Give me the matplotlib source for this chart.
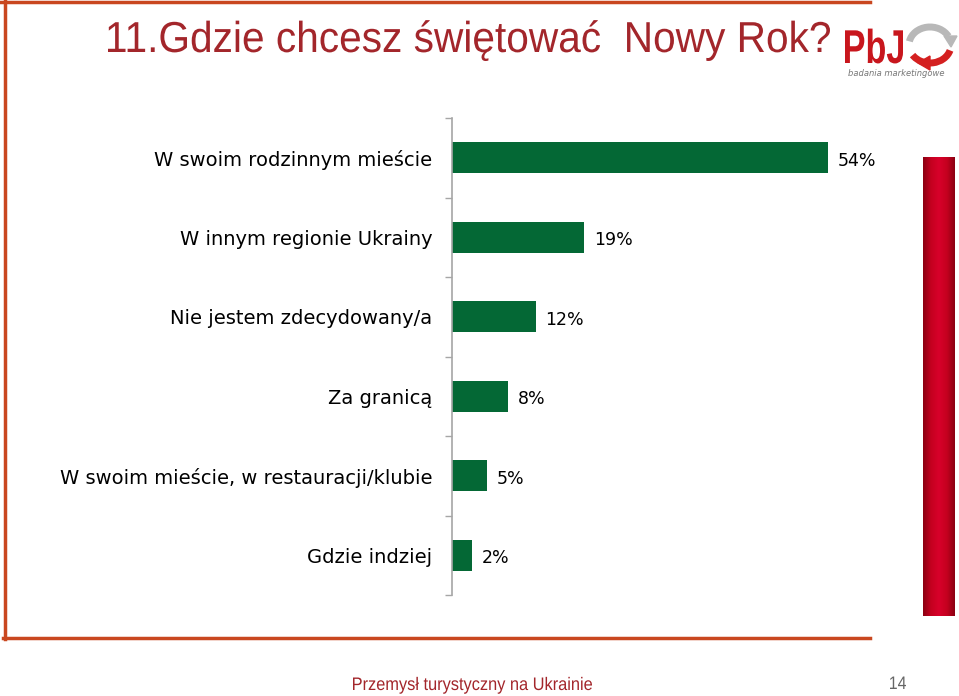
import numpy as np
import matplotlib.pyplot as plt
from matplotlib.lines import Line2D
from matplotlib.patches import Arc, PathPatch, Polygon
from matplotlib.textpath import TextPath
from matplotlib.font_manager import FontProperties
from matplotlib.transforms import Affine2D
from matplotlib.colors import LinearSegmentedColormap

categories = ['W swoim rodzinnym mieście',
              'W innym regionie Ukrainy',
              'Nie jestem zdecydowany/a',
              'Za granicą',
              'W swoim mieście, w restauracji/klubie',
              'Gdzie indziej']
values = [54, 19, 12, 8, 5, 2.9]
value_labels = ['54%', '19%', '12%', '8%', '5%', '2%']

title = '11.Gdzie chcesz świętować  Nowy Rok?'
footer = 'Przemysł turystyczny na Ukrainie'
page = '14'

green = '#046835'
dark_red = '#a3262b'
frame = '#c9471f'

fig = plt.figure(figsize=(9.59, 6.96), dpi=100)
W, H = 959, 696

# overlay in pixel coords (y down) for the slide decoration
ov = fig.add_axes([0, 0, 1, 1])
ov.set_xlim(0, W)
ov.set_ylim(H, 0)
ov.axis('off')
ov.patch.set_alpha(0)


def narrow_text(s, x0, base, cap, width, color, weight='normal'):
    # Arial Narrow look: Liberation Sans squeezed horizontally
    size = cap / 0.716
    tp = TextPath((0, 0), s, size=size,
                  prop=FontProperties(family='Liberation Sans', weight=weight))
    ext = tp.get_extents()
    sx = width / ext.width
    tr = Affine2D().translate(-ext.x0, 0).scale(sx, -1).translate(x0, base)
    ov.add_patch(PathPatch(tr.transform_path(tp), fc=color, ec='none'))


# frame lines
ov.add_line(Line2D([0, 870], [2, 2], color=frame, lw=2.5))
ov.add_line(Line2D([5, 5], [0, 639], color=frame, lw=2.5))
ov.add_line(Line2D([3, 870], [638, 638], color=frame, lw=2.5))

# chart
ax = fig.add_axes([452 / W, 1 - 595 / H, 60 * 6.96 / W, (595 - 118) / H])
y = np.arange(len(categories))
ax.barh(y, values, height=0.39, color=green)
for yi, v, lab in zip(y, values, value_labels):
    ax.text(v + 1.4, yi + 0.04, lab, va='center', ha='left', fontsize=12.5,
            family='DejaVu Sans', color='black')
ax.set_xlim(0, 60)
ax.set_ylim(len(categories) - 0.5, -0.5)
ax.set_yticks(y)
ax.set_yticklabels(categories, fontsize=14, family='DejaVu Sans')
ax.set_yticks(np.arange(-0.5, len(categories)), minor=True)
ax.tick_params(axis='y', which='major', length=0, pad=14)
ax.tick_params(axis='y', which='minor', length=5, color='#a6a6a6', width=1)
ax.set_xticks([])
for s in ['top', 'right', 'bottom']:
    ax.spines[s].set_visible(False)
ax.spines['left'].set_color('#a6a6a6')
ax.spines['left'].set_linewidth(1.2)
ax.patch.set_alpha(0)

# title
narrow_text(title, 108, 52, 31, 722, dark_red)

# logo
narrow_text('PbJ', 845, 63, 34, 58, '#c8161d', weight='bold')
ov.add_patch(Arc((930, 45), 42, 36, theta1=190, theta2=335, lw=5, color='#b8b8b8'))
ov.add_patch(Polygon([[944, 36], [957, 36], [951, 47]], color='#b8b8b8'))
ov.add_patch(Arc((930, 45), 42, 36, theta1=15, theta2=150, lw=5, color='#d42020'))
ov.add_patch(Polygon([[930, 56], [918, 63], [930, 70]], color='#d42020'))
ov.text(896, 74, 'badania marketingowe', fontsize=6, style='italic',
        color='#777777', ha='center', va='center')

# red side bar with gradient
rax = fig.add_axes([923 / W, 1 - 616 / H, 32 / W, (616 - 157) / H])
grad = np.abs(np.linspace(-1, 1, 64))[None, :]
cm = LinearSegmentedColormap.from_list('r', ['#d7002a', '#c4001f', '#8c0012'])
rax.imshow(grad, aspect='auto', cmap=cm, extent=[0, 1, 0, 1])
rax.axis('off')

# footer
narrow_text(footer, 353, 690, 13, 239, dark_red)
narrow_text(page, 890, 689, 13, 16, '#666666')

fig.savefig('out.png', dpi=100)
